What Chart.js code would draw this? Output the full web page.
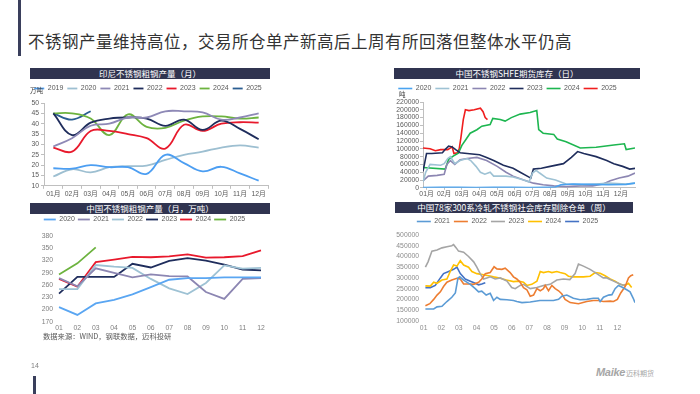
<!DOCTYPE html>
<html><head><meta charset="utf-8">
<script src="https://cdn.jsdelivr.net/npm/chart.js@4.4.1/dist/chart.umd.min.js"></script>
<style>
body{margin:0;width:700px;height:394px;background:#fff;position:relative;overflow:hidden;font-family:'Liberation Sans','Noto Sans CJK SC',sans-serif;}
.abs{position:absolute}
.bar{background:#303450;color:#fff;text-align:center;font-size:8.5px;line-height:11px;height:11px;white-space:nowrap;font-family:'Noto Sans CJK SC',sans-serif}
.box{position:absolute}
</style></head>
<body>
<div class="abs" style="left:18px;top:0;width:3px;height:56px;background:#3A3F5C"></div>
<div class="abs" style="left:28px;top:31px;font-size:16.5px;line-height:20px;letter-spacing:0.5px;color:#333;white-space:nowrap;font-family:'Noto Sans CJK SC',sans-serif">不锈钢产量维持高位，交易所仓单产新高后上周有所回落但整体水平仍高</div>

<div class="abs bar" style="left:30px;top:68px;width:240px">印尼不锈钢粗钢产量（月）</div>
<div class="abs bar" style="left:30px;top:203px;width:240px">中国不锈钢粗钢产量（月，万吨）</div>
<div class="abs bar" style="left:394px;top:68px;width:246px">中国不锈钢SHFE期货库存（日）</div>
<div class="abs bar" style="left:395px;top:202px;width:238px">中国78家300系冷轧不锈钢社会库存剔除仓单（周）</div>

<div class="box" style="left:28px;top:81px;width:246px;height:118px"><canvas id="c1"></canvas></div>
<div class="box" style="left:28px;top:213px;width:246px;height:121px"><canvas id="c2"></canvas></div>
<div class="box" style="left:380px;top:81px;width:260px;height:117px"><canvas id="c3"></canvas></div>
<div class="box" style="left:380px;top:214px;width:258px;height:121px"><canvas id="c4"></canvas></div>

<div class="abs" style="left:30px;top:85px;font-size:6.5px;color:#404040;font-family:'Noto Sans CJK SC',sans-serif">万吨</div>
<div class="abs" style="left:399px;top:89px;font-size:6.5px;color:#404040;font-family:'Noto Sans CJK SC',sans-serif">吨</div>
<div class="abs" style="left:43px;top:331px;font-size:7.3px;color:#595959;white-space:nowrap;font-family:'Noto Sans CJK SC',sans-serif">数据来源：WIND，钢联数据，迈科投研</div>

<div class="abs" style="left:31px;top:362px;font-size:7px;color:#808080">14</div>
<div class="abs" style="left:33px;top:376px;width:3px;height:18px;background:#3A3F5C"></div>
<div class="abs" style="left:596px;top:362px;white-space:nowrap;color:#A6A6A6"><span style="font-size:11px;font-weight:bold;font-style:italic;letter-spacing:-0.3px">Maike</span><span style="font-size:7px;font-family:'Noto Sans CJK SC',sans-serif;margin-left:1px">迈科期货</span></div>

<script>
// ---------- Chart 1: 印尼不锈钢粗钢产量（月）, 万吨 ----------
const months1 = ['01月','02月','03月','04月','05月','06月','07月','08月','09月','10月','11月','12月'];
const indo2019 = [18.5,18.3,20,19,19,15.8,25,21,17,19.2,16,12.5];
const indo2020 = [14.5,18,16.5,19,19.5,19.8,22.5,25,26.5,28.5,29.5,28.5];
const indo2021 = [29,33,39,40,43,43,46,46,45.5,42,43,45];
const indo2022 = [45,34.5,40.5,42.5,43,42.5,39,42,37,41.5,37.5,32.5];
const indo2023 = [28.5,26.5,36.5,36.5,35,33,28,39.5,36.5,40,40.7,40.5];
const indo2024 = [45,45,42.5,34.5,44.5,38.5,38,41.5,43.5,43.5,42.5,43];
const indo2025 = [45,42,46];

// ---------- Chart 2: 中国不锈钢粗钢产量（月，万吨） ----------
const months2 = ['01','02','03','04','05','06','07','08','09','10','11','12'];
const cn2020 = [206,187,215,224,237,255,273,277,277,279,279,279];
const cn2021 = [277,257,301,290,279,286,282,281,243,226,275,277];
const cn2022 = [250,250,309,305,302,275,252,238,265,308,300,302];
const cn2023 = [239,280,280,280,312,303,319,326,320,310,298,296];
const cn2024 = [275,256,316,322,329,328,330,335,327,328,331,345];
const cn2025 = [286,313,352];

// ---------- Chart 3: 中国不锈钢SHFE期货库存（日）, 吨 ; x = month position ----------
const months3 = ['01月','02月','03月','04月','05月','06月','07月','08月','09月','10月','11月','12月'];
const shfe2020X = [0,1,2,3,4,5,6,7,7.5,7.8,8.5,9.5,10.5,11.5,12];
const shfe2020Y = [1000,1500,1500,1000,1500,1500,1000,1500,2000,8000,10000,9000,8000,9000,12000];
const shfe2021X = [0,0.15,0.4,1.0,1.2,1.4,1.55,1.8,2.1,2.5,2.7,3.0,3.25,3.5,3.8,4.0,4.7,5.1,5.7,6.0,6.2,6.4,6.6,7.0,7.5,8.1,9.0,9.8,10.5,11.5,12];
const shfe2021Y = [15000,40000,60000,58000,62000,75000,80000,62000,70000,75000,70000,55000,40000,35000,40000,30000,30000,28000,20000,15000,38000,45000,38000,25000,20000,10000,8000,10000,12000,10000,12000];
const shfe2022X = [0,0.3,0.8,1.2,1.35,1.55,1.8,2.1,2.5,3.05,3.6,4.2,4.7,5.1,5.7,6.25,6.8,7.4,8.1,8.9,9.6,10.2,10.6,11.1,11.6,12];
const shfe2022Y = [18000,30000,32000,35000,60000,70000,60000,72000,75000,78000,70000,55000,40000,30000,20000,12000,8000,5000,3000,5000,5000,10000,18000,25000,30000,38000];
const shfe2023X = [0,0.2,0.5,1.1,1.25,1.45,1.65,1.85,2.1,2.5,3.2,3.6,4.0,4.55,5.1,5.5,5.9,6.1,6.25,6.7,7.2,7.95,8.4,8.75,9.1,9.8,10.4,10.8,11.3,11.7,12];
const shfe2023Y = [42000,88000,88000,90000,98000,107000,105000,98000,90000,88000,85000,78000,70000,58000,50000,40000,30000,25000,48000,50000,55000,62000,78000,93000,88000,80000,70000,62000,55000,48000,50000];
const shfe2024X = [0,1.26,1.45,1.73,2.0,2.2,2.4,2.67,3.05,3.33,3.8,3.95,4.37,4.65,5.0,5.5,6.06,6.44,6.55,6.8,7.4,7.6,8.1,8.9,9.8,10.8,11.4,11.5,12];
const shfe2024Y = [52000,48000,73000,82000,89000,109000,122000,140000,149000,158000,162000,178000,175000,171000,180000,189000,193000,198000,149000,140000,137000,125000,118000,102000,104000,110000,113000,98000,102000];
const shfe2025X = [0,0.4,0.7,1.0,1.4,1.65,1.75,1.95,2.05,2.15,2.28,2.4,2.6,2.9,3.25,3.4,3.52,3.65];
const shfe2025Y = [102000,100000,95000,98000,98000,105000,88000,90000,100000,130000,175000,200000,198000,200000,204000,195000,180000,175000];

// ---------- Chart 4: 社会库存剔除仓单（周）; x = month position ----------
const months4 = ['01','02','03','04','05','06','07','08','09','10','11','12'];
const soc2021X = [0.1,0.57,0.76,1.04,1.32,1.6,1.8,1.95,2.05,2.27,2.65,2.93,3.12,3.3,3.55,3.78,3.97,4.16,4.35,4.73,5.1,5.29,5.58,6.05,6.6,7.37,7.66,7.85,8.13,8.5,8.88,9.26,9.64,9.92,10.02,10.21,10.5,10.69,10.87,11.06,11.25,11.53,11.72,11.9,12.0];
const soc2021Y = [155000,155000,165000,168000,190000,210000,230000,300000,305000,290000,270000,250000,235000,238000,220000,228000,195000,210000,200000,198000,195000,190000,185000,188000,195000,195000,200000,215000,220000,205000,198000,200000,205000,205000,190000,210000,220000,222000,250000,265000,258000,245000,235000,205000,185000];
const soc2022X = [0.1,0.35,0.57,0.76,0.95,1.13,1.32,1.6,1.89,2.08,2.27,2.65,2.84,3.12,3.3,3.5,3.78,4.0,4.16,4.44,4.63,4.91,5.1,5.29,5.48,5.67,5.86,6.05,6.24,6.43,6.62,6.8,6.9,7.09,7.28,7.47,7.66,7.85,8.03,8.32,8.6,8.79,9.26,9.64,9.92,10.2,10.59,10.78,11.0,11.19,11.44,11.63,11.76,11.9];
const soc2022Y = [170000,180000,200000,220000,235000,260000,280000,290000,298000,295000,272000,272000,270000,280000,295000,320000,325000,352000,342000,340000,345000,325000,305000,295000,280000,255000,245000,215000,220000,250000,240000,250000,265000,240000,265000,250000,240000,225000,200000,185000,182000,180000,190000,195000,195000,190000,192000,190000,200000,230000,260000,300000,310000,315000];
const soc2023X = [0.1,0.25,0.47,0.76,1.04,1.32,1.6,1.7,1.85,1.98,2.27,2.55,2.84,3.02,3.21,3.4,3.59,3.78,4.06,4.35,4.73,5.0,5.2,5.48,5.67,6.05,6.43,6.8,7.18,7.56,7.94,8.3,8.6,8.79,9.07,9.45,9.83,10.2,10.4,10.78,11.06,11.34,11.45];
const soc2023Y = [350000,375000,425000,430000,440000,445000,450000,455000,440000,425000,420000,400000,375000,350000,320000,295000,300000,305000,295000,300000,285000,255000,250000,265000,270000,250000,255000,265000,270000,290000,295000,292000,320000,365000,355000,340000,320000,300000,300000,285000,275000,265000,270000];
const soc2024X = [0.1,0.38,0.57,0.76,1.04,1.32,1.51,1.7,1.89,2.08,2.27,2.55,2.74,3.02,3.4,3.69,3.97,4.3,4.7,5.1,5.39,5.67,5.86,6.14,6.43,6.62,6.8,7.09,7.28,7.56,7.75,8.03,8.22,8.5,9.07,9.45,9.74,10.02,10.3,10.59,10.87,11.15,11.44,11.63,11.81];
const soc2024Y = [263000,262000,280000,275000,290000,295000,330000,360000,355000,380000,360000,350000,330000,320000,315000,310000,305000,300000,290000,283000,285000,280000,265000,270000,285000,330000,325000,330000,325000,330000,325000,320000,308000,305000,305000,308000,325000,322000,310000,295000,285000,270000,265000,275000,255000];
const soc2025X = [0.1,0.38,0.66,0.95,1.13,1.42,1.7,1.89,2.08,2.36,2.65,2.93,3.12,3.3,3.5];
const soc2025Y = [255000,255000,265000,300000,320000,330000,340000,350000,320000,295000,285000,275000,268000,272000,278000];

// ---------- helpers ----------
Chart.defaults.font.family = "'Liberation Sans','Noto Sans CJK SC',sans-serif";
Chart.defaults.animation = false;
const pts = (xs, ys) => xs.map((x, i) => ({x: x, y: ys[i]}));
const ds = (label, data, color, w, tension) => ({label, data, borderColor: color, backgroundColor: color,
  borderWidth: w, pointRadius: 0, tension: tension || 0, fill: false});
const legend = (lw, pad) => ({display: true, position: 'top', align: 'center',
  labels: {usePointStyle: true, pointStyle: 'line', pointStyleWidth: lw, boxHeight: 7,
    font: {size: 7}, color: '#595959', padding: pad}});
const fixW = w => (s => { s.width = w; });
const noGrid = {display: false, drawTicks: false};
// extra space under the legend
const legendGap = gap => ({id: 'legendGap', beforeInit(chart) {
  const lg = chart.legend; if (!lg) return;
  const fit = lg.fit;
  lg.fit = function () { fit.call(this); this.height += gap; };
}});

// Chart 1
new Chart(document.getElementById('c1'), {
  type: 'line',
  data: {labels: months1, datasets: [
    ds('2019', indo2019, '#4C9EF2', 1.8, 0.4),
    ds('2020', indo2020, '#9DBFD1', 1.8, 0.4),
    ds('2021', indo2021, '#8E89B6', 1.8, 0.4),
    ds('2022', indo2022, '#1F2D5C', 1.8, 0.4),
    ds('2023', indo2023, '#E8192C', 1.8, 0.4),
    ds('2024', indo2024, '#6DB33F', 1.8, 0.4),
    ds('2025', indo2025, '#2B5E92', 1.8, 0.4)
  ]},
  options: {responsive: true, maintainAspectRatio: false,
    layout: {padding: {left: 0, right: 6, top: 0, bottom: 0}},
    plugins: {legend: legend(10, 4), tooltip: {enabled: false}},
    scales: {
      x: {offset: true, grid: {offset: true, drawOnChartArea: false, tickLength: 3, color: '#BFBFBF'},
        border: {display: true, color: '#BFBFBF'},
        ticks: {font: {size: 6.8}, color: '#595959', maxRotation: 0, autoSkip: false, padding: 1}},
      y: {min: 10, max: 50, afterFit: fixW(16),
        grid: {drawOnChartArea: false, tickLength: 3, color: '#BFBFBF'},
        border: {display: true, color: '#BFBFBF'},
        ticks: {stepSize: 5, autoSkip: false, font: {size: 6.8}, color: '#595959', padding: 2}}
    }},
  plugins: [legendGap(1)]
});

// Chart 2
new Chart(document.getElementById('c2'), {
  type: 'line',
  data: {labels: months2, datasets: [
    ds('2020', cn2020, '#5AA6F2', 1.8),
    ds('2021', cn2021, '#8C86B2', 1.8),
    ds('2022', cn2022, '#9EC2D4', 1.8),
    ds('2023', cn2023, '#1F2D5C', 1.8),
    ds('2024', cn2024, '#E8192C', 1.8),
    ds('2025', cn2025, '#6DB33F', 1.8)
  ]},
  options: {responsive: true, maintainAspectRatio: false,
    layout: {padding: {left: 0, right: 13, top: 0, bottom: 0}},
    plugins: {legend: legend(12, 3), tooltip: {enabled: false}},
    scales: {
      x: {offset: false, grid: noGrid, border: {display: false},
        ticks: {font: {size: 6.8}, color: '#7F7F7F', maxRotation: 0, autoSkip: false, padding: 2}},
      y: {min: 170, max: 380, afterFit: fixW(31),
        grid: noGrid, border: {display: false},
        ticks: {stepSize: 30, autoSkip: false, font: {size: 6.8}, color: '#7F7F7F', padding: 6}}
    }},
  plugins: [legendGap(3)]
});

// Chart 3
new Chart(document.getElementById('c3'), {
  type: 'line',
  data: {datasets: [
    ds('2020', pts(shfe2020X, shfe2020Y), '#4AA3F0', 1.6),
    ds('2021', pts(shfe2021X, shfe2021Y), '#9EC2D4', 1.6),
    ds('2022', pts(shfe2022X, shfe2022Y), '#8C86B2', 1.6),
    ds('2023', pts(shfe2023X, shfe2023Y), '#1F2D5C', 1.6),
    ds('2024', pts(shfe2024X, shfe2024Y), '#1DB650', 1.6),
    ds('2025', pts(shfe2025X, shfe2025Y), '#F01E1E', 1.6)
  ]},
  options: {responsive: true, maintainAspectRatio: false,
    layout: {padding: {left: 0, right: 5, top: 0, bottom: 0}},
    plugins: {legend: legend(14, 4), tooltip: {enabled: false}},
    scales: {
      x: {type: 'linear', min: 0, max: 12,
        afterBuildTicks: s => { s.ticks = months3.map((m, i) => ({value: i + 0.2})); },
        grid: {drawOnChartArea: false, tickLength: 2, color: '#BFBFBF'},
        border: {display: true, color: '#BFBFBF'},
        ticks: {font: {size: 6.8}, color: '#595959', maxRotation: 0, autoSkip: false, padding: 0,
          callback: (v, i) => months3[i]}},
      y: {min: 0, max: 220000, afterFit: fixW(43),
        grid: {drawOnChartArea: false, tickLength: 3, color: '#BFBFBF'},
        border: {display: true, color: '#BFBFBF'},
        ticks: {stepSize: 20000, autoSkip: false, font: {size: 6.8}, color: '#595959', padding: 1, callback: v => String(v)}}
    }}
});

// Chart 4
new Chart(document.getElementById('c4'), {
  type: 'line',
  data: {datasets: [
    ds('2021', pts(soc2021X, soc2021Y), '#5B9BD5', 1.6),
    ds('2022', pts(soc2022X, soc2022Y), '#ED7D31', 1.6),
    ds('2023', pts(soc2023X, soc2023Y), '#A5A5A5', 1.6),
    ds('2024', pts(soc2024X, soc2024Y), '#FFC000', 1.6),
    ds('2025', pts(soc2025X, soc2025Y), '#4472C4', 1.6)
  ]},
  options: {responsive: true, maintainAspectRatio: false,
    layout: {padding: {left: 0, right: 3, top: 0, bottom: 0}},
    plugins: {legend: legend(14, 4), tooltip: {enabled: false}},
    scales: {
      x: {type: 'linear', min: -0.15, max: 12,
        afterBuildTicks: s => { s.ticks = months4.map((m, i) => ({value: i})); },
        grid: noGrid, border: {display: false},
        ticks: {font: {size: 6.8}, color: '#8C8C8C', maxRotation: 0, autoSkip: false, padding: 3,
          callback: (v, i) => months4[i]}},
      y: {min: 100000, max: 500000, afterFit: fixW(41),
        grid: noGrid, border: {display: false},
        ticks: {stepSize: 50000, autoSkip: false, font: {size: 6.8}, color: '#8C8C8C', padding: 2, callback: v => String(v)}}
    }}
});
</script>
</body></html>
